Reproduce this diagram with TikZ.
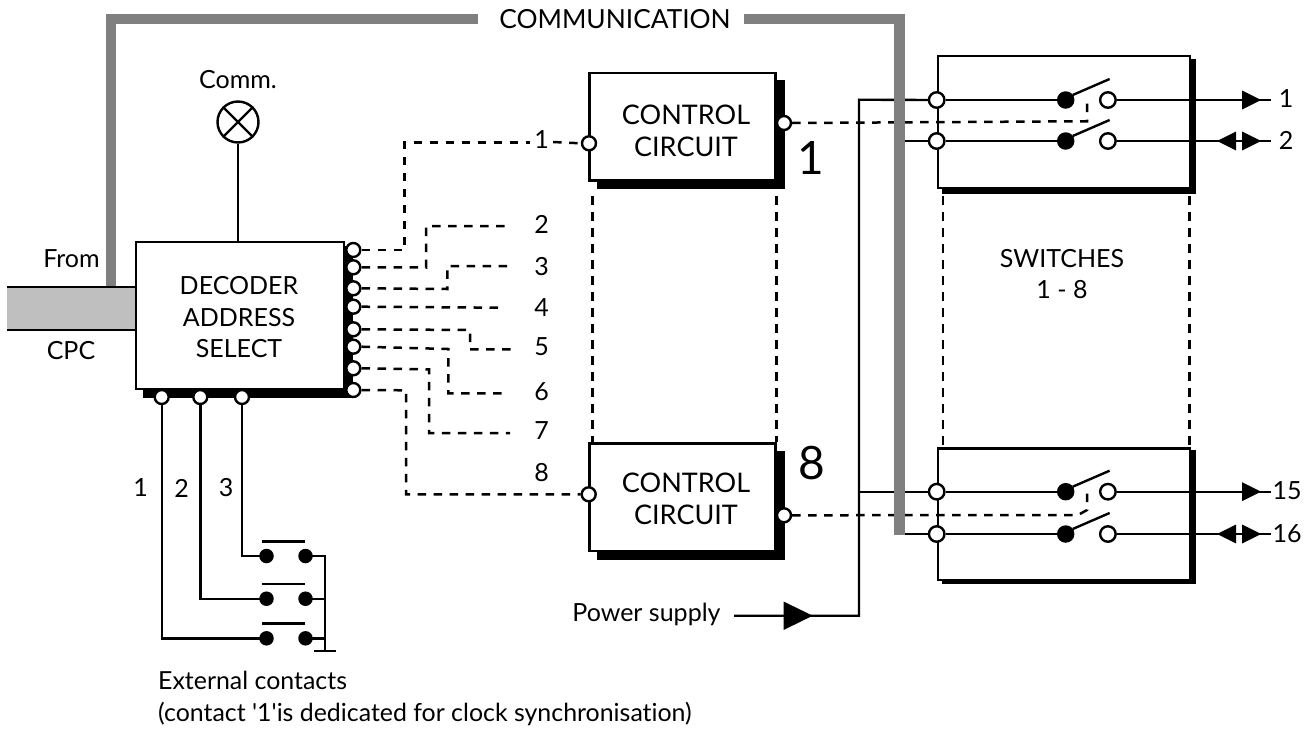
\documentclass[tikz,border=0pt]{standalone}
\usepackage{fontspec}
\setmainfont{Lato}[Ligatures=NoCommon]
\newfontfamily\plainf{Lato}[Ligatures=NoCommon]
\begin{document}
\begin{tikzpicture}[x=1pt,y=-1pt,
  wire/.style={line width=2.4pt},
  sig/.style={line width=2.5pt,dash pattern=on 8.5pt off 7.5pt},
  link/.style={line width=2.5pt,dash pattern=on 8.5pt off 7.5pt},
  commbar/.style={line width=10.5pt,color=commgray},
  boxnode/.style={draw,fill=white,line width=2.4pt,rectangle,inner sep=0pt,anchor=north west},
  pin/.style={draw,circle,fill=white,line width=2.4pt,inner sep=0pt,minimum size=14pt},
  dotn/.style={circle,fill=black,inner sep=0pt,minimum size=14.5pt},
  bigdot/.style={circle,fill=black,inner sep=0pt,minimum size=17.5pt},
  txt/.style={font=\fontsize{25}{31.5}\selectfont,align=center,inner sep=0pt},
  wtxt/.style={font=\fontsize{27}{31.5}\selectfont,align=center,inner sep=0pt},
  bigtxt/.style={font=\fontsize{46}{50}\selectfont,inner sep=0pt}
]
\definecolor{commgray}{HTML}{808080}
\definecolor{cpcgray}{HTML}{BFBFBF}
\newcommand{\trir}[2]{\fill (#1,#2-9.5) -- (#1+19,#2) -- (#1,#2+9.5) -- cycle;}
\newcommand{\tril}[2]{\fill (#1,#2-9.5) -- (#1-19,#2) -- (#1,#2+9.5) -- cycle;}
\useasboundingbox (0,0) rectangle (1311,731);
\fill[white] (0,0) rectangle (1311,731);

% CPC bus
\fill[cpcgray] (7,286.7) rectangle (135,330);
\draw[wire] (7,286.7) -- (135,286.7) (7,330) -- (135,330);

% shadows
\fill (143,246) rectangle (353,398);
\fill (596.7,80) rectangle (785,189);
\fill (596.7,450.7) rectangle (785,560);
\fill (941.7,59.3) rectangle (1195.7,194);
\fill (941.7,450) rectangle (1195.7,584.3);

% boxes
\node[boxnode,minimum width=208pt,minimum height=147pt] (dec) at (135,241) {};
\node[boxnode,minimum width=186pt,minimum height=107.6pt] (cc1) at (588.3,71.7) {};
\node[boxnode,minimum width=186pt,minimum height=107.7pt] (cc8) at (588.3,442.3) {};
\node[boxnode,minimum width=252.3pt,minimum height=131.7pt] (sw1) at (936.7,55) {};
\node[boxnode,minimum width=252.3pt,minimum height=131.7pt] (sw8) at (936.7,447.3) {};

% box texts
\node[txt] (dectxt) at (239,317.5) {DECODER\\ADDRESS\\SELECT};
\node[wtxt] (cc1txt) at (686,131) {CONTROL\\CIRCUIT};
\node[wtxt] (cc8txt) at (686,499) {CONTROL\\CIRCUIT};
\node[txt] (swtxt) at (1062,274) {SWITCHES\\1 - 8};
\node[bigtxt] (n1) at (811,158) {1};
\node[bigtxt] (n8) at (812,463) {8};

% decoder pins
\foreach \n/\y in {1/250,2/267.3,3/288.3,4/306.7,5/329.3,6/346.7,7/368.3,8/390}
  \node[pin] (p\n) at (353.3,\y) {};
\foreach \n/\x in {1/161.7,2/200.3,3/242}
  \node[pin] (b\n) at (\x,397) {};
\node[pin] (cc1in) at (589,143.3) {};
\node[pin] (cc1out) at (784,123) {};
\node[pin] (cc8in) at (588.7,494.3) {};
\node[pin] (cc8out) at (784,515.3) {};

% lamp
\node[draw,circle,line width=2.4pt,fill=white,minimum size=41pt,inner sep=0pt] (lamp) at (238,122) {};
\draw[line width=2.4pt] (lamp.north west) -- (lamp.south east) (lamp.north east) -- (lamp.south west);
\draw[wire] (lamp.south) -- (lamp.south |- dec.north);
\node[txt] (comm) at (238,80) {Comm.};

% texts left
\node[txt] (from) at (71.5,259) {From};
\node[txt] (cpc) at (71,351) {CPC};
\node[txt,font=\fontsize{26.3}{31.5}\selectfont] (commtxt) at (615,19) {COMMUNICATION};

% output labels of the decoder
\node[txt] (l1) at (541.7,140) {1};
\node[txt] (l2) at (541.7,224) {2};
\node[txt] (l3) at (541.7,266.7) {3};
\node[txt] (l4) at (541.7,307.7) {4};
\node[txt] (l5) at (541.7,346.7) {5};
\node[txt] (l6) at (541.7,391.7) {6};
\node[txt] (l7) at (541.7,430.7) {7};
\node[txt] (l8) at (541.7,472.3) {8};

% dashed decoder outputs
\draw[sig] (p1.east) -- (404.7,250) -- (404.7,142.3) -- (530,142.3);
\draw[sig] (l1.east)+(4,2) -- (cc1in.west);
\draw[sig] (p2.east) -- (426,267.5) -- (426,226) -- (507.7,226);
\draw[sig] (p3.east) -- (447.3,289) -- (447.3,266) -- (511.7,266);
\draw[sig] (p4.east) -- (504,307.7);
\draw[sig] (p5.east) -- (470,330) -- (470,349.3) -- (513,349.3);
\draw[sig] (p6.east) -- (448.3,349) -- (448.3,393.3) -- (506.7,393.3);
\draw[sig] (p7.east) -- (429,369.3) -- (429,433) -- (510,433);
\draw[sig] (p8.east) -- (406,390.3) -- (406,494.3) -- (cc8in.west);

% dashed stack columns
\draw[sig] (592.7,196) -- (592.7,442);
\draw[sig] (776.7,196) -- (776.7,442);
\draw[sig] (943,196) -- (943,447);
\draw[sig] (1189.4,196) -- (1189.4,447);

% switch contacts
\foreach \k/\y in {a/100,b/141,c/491.7,d/534}{
  \node[pin,minimum size=15.5pt] (in\k) at (936.7,\y) {};
  \node[bigdot] (bd\k) at (1065.7,\y) {};
  \node[pin,minimum size=15.5pt] (out\k) at (1107.9,\y) {};
  \draw[wire] (in\k.east) -- (bd\k.center);
  \draw[wire] (1072.7,\y-5) -- (1109.6,\y-21);
  \coordinate (end\k) at (1271,\y);
  \draw[wire] (out\k.east) -- (end\k);
}
% output arrows
\trir{1242}{100}
\trir{1242}{141}\tril{1236}{141}
\trir{1242}{491.7}
\trir{1242}{534}\tril{1236}{534}
\node[txt] (o1) at (1286,99) {1};
\node[txt] (o2) at (1286,140.7) {2};
\node[txt] (o15) at (1287,491) {15};
\node[txt] (o16) at (1287,534) {16};

% actuator links
\draw[link] (cc1out.east) -- (1080,121.3) -- (1087,121.3) -- (1087,98);
\draw[link] (cc8out.east) -- (1078,515) -- (1087,510) -- (1087,490);

% power supply
\node[txt,anchor=east] (ps) at (720.7,614) {Power supply};
\coordinate (psin) at (734,615.7);
\draw[wire] (psin) -- (859,615.7) -- (859,99.7) -- (ina.west);
\draw[wire] (859,491.7) -- (inc.west);
\fill (783.5,601.5) -- (812.7,615.7) -- (783.5,630) -- cycle;

% lines from the communication bar
\draw[wire] (899,141) -- (inb.west);
\draw[wire] (894.6,534) -- (ind.west);

% communication bar
\draw[commbar] (111,286) -- (111,19) -- (478,19);
\draw[commbar] (744,19) -- (899.7,19) -- (899.7,535);

% external contacts
\foreach \n/\y in {3/556,2/598.7,1/638.3}{
  \node[dotn] (cl\n) at (266.5,\y) {};
  \node[dotn] (cr\n) at (305.5,\y) {};
  \draw[wire] (262,\y-14.7) -- (304.7,\y-14.7);
}
\draw[wire] (b3.south) -- (b3.south |- cl3) -- (cl3.center);
\draw[wire] (b2.south) -- (b2.south |- cl2) -- (cl2.center);
\draw[wire] (b1.south) -- (b1.south |- cl1) -- (cl1.center);
\coordinate (gnd) at (324.7,650.7);
\draw[wire] (cr3.center) -- (cr3 -| gnd) -- (gnd);
\draw[wire] (cr2.center) -- (cr2 -| gnd);
\draw[wire] (cr1.center) -- (cr1 -| gnd);
\draw[wire] (314,650.7) -- (336,650.7);
\node[txt] (c1) at (140.7,488) {1};
\node[txt] (c2) at (181.7,488) {2};
\node[txt] (c3) at (226,488) {3};
\node[align=left,anchor=north west,inner sep=0pt,font=\plainf\fontsize{24.9}{32}\selectfont] (ext) at (158,671) {External contacts\\(contact '1'is dedicated for clock synchronisation)};
\end{tikzpicture}
\end{document}
